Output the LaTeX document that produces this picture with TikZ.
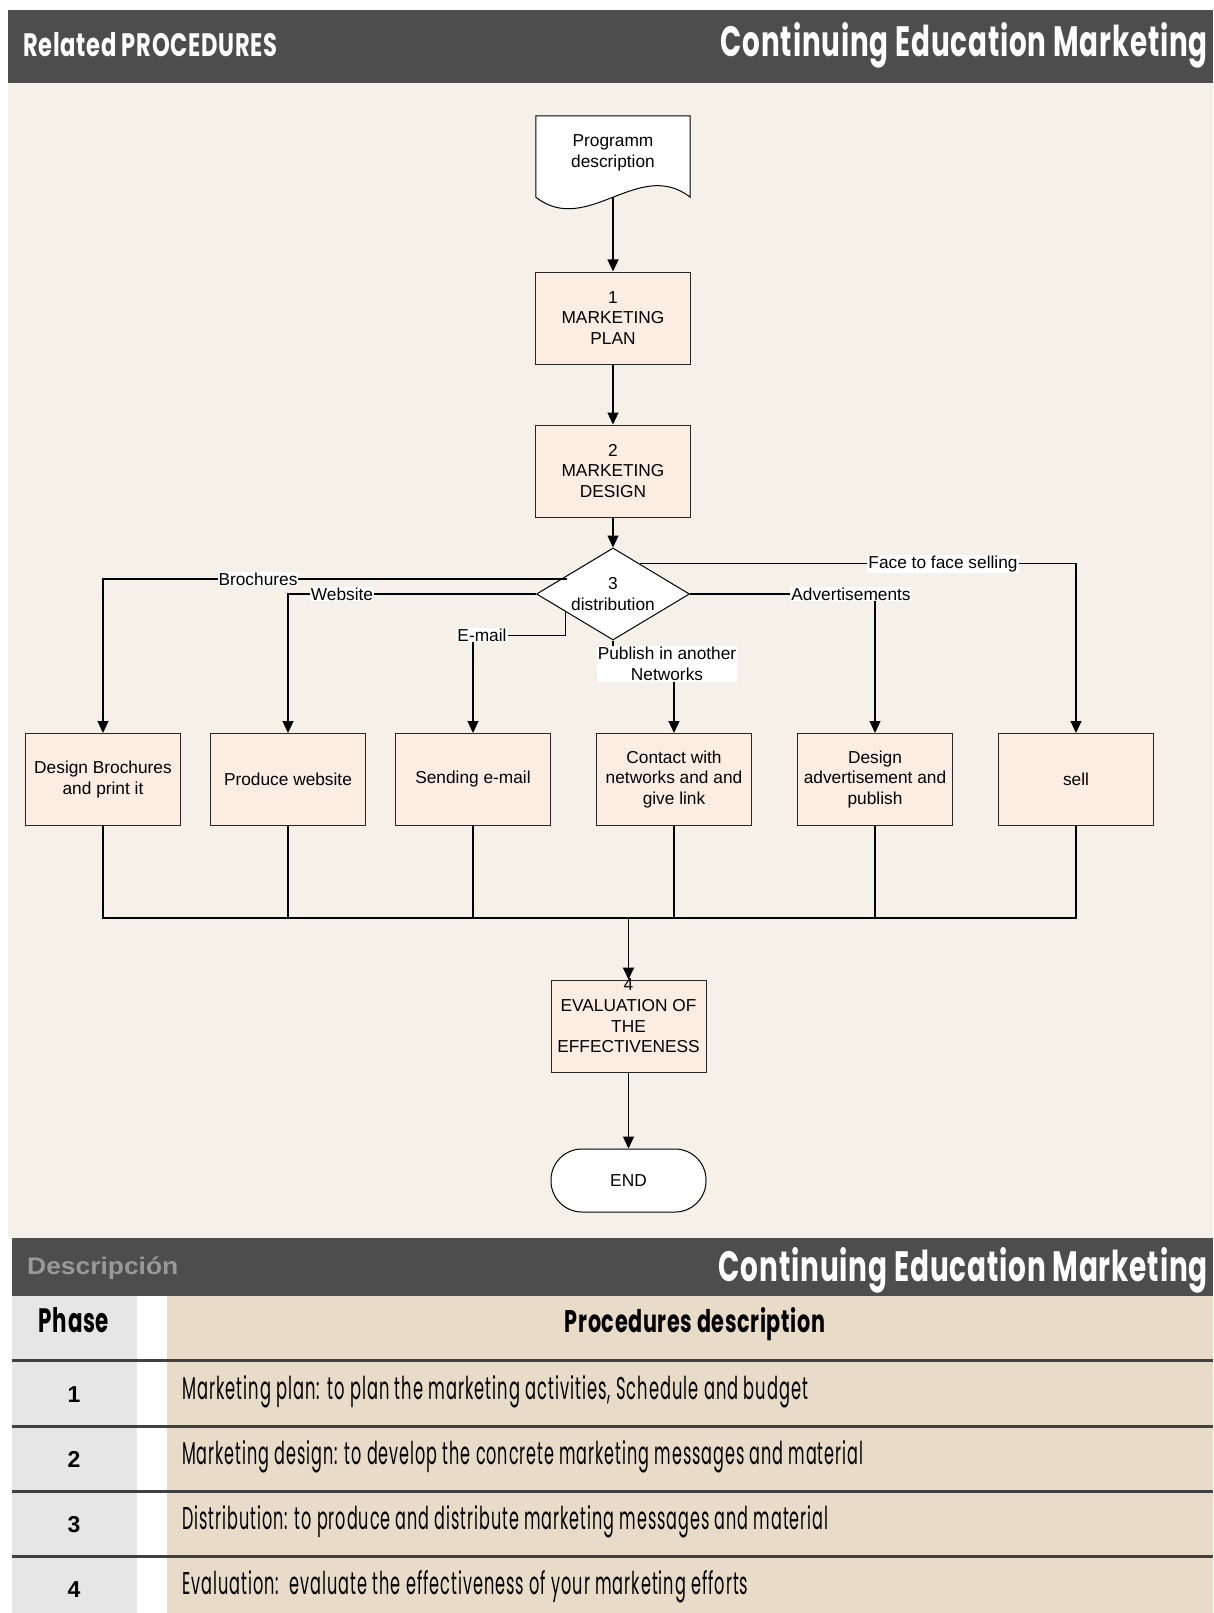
\documentclass[tikz,border=0pt]{standalone}
\usepackage{fontspec}
\usepackage{graphicx}
\setmainfont{Liberation Sans}
\newfontfamily\condfont{Poppins}[LetterSpace=6]
\newfontfamily\condbold{Poppins}[LetterSpace=3]
\usetikzlibrary{shapes.geometric,arrows.meta,calc}

\definecolor{barcol}{HTML}{4D4D4D}
\definecolor{paper}{HTML}{F5F0E8}
\definecolor{procfill}{HTML}{FCEDE3}
\definecolor{descfill}{HTML}{E8DCC8}
\definecolor{phasefill}{HTML}{E6E6E6}
\definecolor{rulecol}{HTML}{404040}
\definecolor{subtle}{HTML}{999999}

% squeeze a text line into a given width and height (in pt)
\newcommand{\fitbox}[3]{\resizebox{#1pt}{#2pt}{#3}}

\begin{document}
\begin{tikzpicture}[x=1pt,y=-1pt,
  flow/.style={font=\fontsize{17.3}{20.7}\selectfont, align=center},
  proc/.style={flow, draw=black!85, line width=1pt, fill=procfill,
    minimum width=155pt, minimum height=92pt, inner sep=0pt},
  edgelabel/.style={flow, fill=white, inner sep=1pt},
  conn/.style={line width=1.1pt, -{Triangle[length=12pt,width=11pt]}},
  plain/.style={line width=1.1pt},
  rowrule/.style={rulecol, line width=3pt},
  hdrtext/.style={inner sep=0pt, text=white},
]
\useasboundingbox (0,0) rectangle (1213,1613);
\fill[white] (0,0) rectangle (1213,1613);

% ---------- upper panel ----------
\fill[paper] (8,82) rectangle (1213,1238);
\fill[barcol] (8,10) rectangle (1213,83);
\node[hdrtext, anchor=base west] (hdrleft) at (23,57)
  {\fitbox{254}{24}{\condbold\bfseries Related PROCEDURES}};
\node[hdrtext, anchor=base east] (hdrright) at (1208,57)
  {\fitbox{487}{34}{\condbold\bfseries Continuing Education Marketing}};

% ---------- flowchart ----------
\node[minimum width=154pt, minimum height=81pt, inner sep=0pt] (doc) at (613,156.5) {};
\draw[fill=white, line width=1pt] (doc.north west) -- (doc.north east) -- (doc.south east)
  .. controls +(-51.3,-40) and +(51.3,40) .. (doc.south west) -- cycle;
\node[flow] (doctext) at ($(doc.center)+(0,-4)$) {Programm\\description};

\node[proc] (plan) at (613,318) {1\\MARKETING\\PLAN};
\node[proc] (design) at (613,471) {2\\MARKETING\\DESIGN};
\node[flow, diamond, draw, fill=white, line width=1pt, aspect=1.66, inner sep=0pt,
  minimum width=153pt, minimum height=92pt] (dist) at (613,594) {3\\distribution};

\node[proc] (b1) at (103,779.5) {Design Brochures\\and print it};
\node[proc] (b2) at (288,779.5) {Produce website};
\node[proc] (b3) at (473,779.5) {Sending e-mail};
\node[proc] (b4) at (674,779.5) {Contact with\\networks and and\\give link};
\node[proc] (b5) at (875,779.5) {Design\\advertisement and\\publish};
\node[proc] (b6) at (1076,779.5) {sell};

\node[proc] (eval) at (628.5,1026) {};
\node[flow, draw, fill=white, line width=1pt, rounded corners=31pt,
  minimum width=155pt, minimum height=63pt] (finish) at (628.5,1180.5) {END};

\draw[conn] (doc.south) -- (plan.north);
\draw[conn] (plan) -- (design);
\draw[conn] (design) -- (dist);
\draw[conn] ($(dist.164)+(6,0)$) -| (b1.north);
\draw[conn] (dist.west) -| (b2.north);
\draw[conn] (dist.201) -- ++(0,23) -| (b3.north);
\draw[conn] (dist.south) -- ++(0,25) -| (b4.north);
\draw[conn] (dist.east) -| (b5.north);
\draw[conn] (dist.48) -| (b6.north);

\node[edgelabel] (lbro) at (258,579) {Brochures};
\node[edgelabel] (lweb) at (342,594) {Website};
\node[edgelabel] (lmail) at (482,635) {E-mail};
\node[edgelabel] (lpub) at (667,664) {Publish in another\\Networks};
\node[edgelabel] (ladv) at (851,594) {Advertisements};
\node[edgelabel] (lface) at (943,564) {Face to face selling};

\coordinate (bus) at (628.5,918);
\foreach \b in {b1,b2,b3,b4,b5,b6} \draw[plain] (\b.south) |- (bus);
\draw[conn, line width=1.8pt] (bus) -- (eval.north);
\draw[conn] (eval) -- (finish);
% text of the evaluation box, set a little high so it runs over the arrow tip
\node[flow] (evaltext) at ($(eval.center)+(0,-10)$) {4\\EVALUATION OF\\THE\\EFFECTIVENESS};

% ---------- description panel ----------
\fill[barcol] (12,1238) rectangle (1213,1296);
\node[inner sep=0pt, anchor=base west, text=subtle] (descr) at (27,1274)
  {\scalebox{1.1}[1]{\fontsize{24}{28}\selectfont\bfseries Descripción}};
\node[hdrtext, anchor=base east] (hdrright2) at (1208,1281)
  {\fitbox{489}{34}{\condbold\bfseries Continuing Education Marketing}};

\fill[phasefill] (12,1296) rectangle (137,1613);
\fill[descfill] (167,1296) rectangle (1213,1613);
\foreach \y in {1360,1426,1491,1556} \draw[rowrule] (12,\y) -- (1213,\y);

\node[inner sep=0pt, anchor=base] (phasehd) at (74,1332)
  {\fitbox{70}{25}{\condbold\bfseries Phase}};
\node[inner sep=0pt, anchor=base] (deschd) at (695,1332)
  {\fitbox{260}{25}{\condbold\bfseries Procedures description}};

\foreach \n/\y in {1/1402,2/1467,3/1532,4/1597}
  \node[inner sep=0pt, anchor=base, font=\fontsize{23}{27}\selectfont\bfseries] (num\n) at (74,\y) {\n};

\node[inner sep=0pt, anchor=base west] (d1) at (182,1399)
  {\fitbox{626}{24}{\condfont Marketing plan: to plan the marketing activities, Schedule and budget}};
\node[inner sep=0pt, anchor=base west] (d2) at (182,1464)
  {\fitbox{681}{24}{\condfont Marketing design: to develop the concrete marketing messages and material}};
\node[inner sep=0pt, anchor=base west] (d3) at (182,1529)
  {\fitbox{646}{24}{\condfont Distribution: to produce and distribute marketing messages and material}};
\node[inner sep=0pt, anchor=base west] (d4) at (182,1594)
  {\fitbox{566}{24}{\condfont Evaluation:\ \ evaluate the effectiveness of your marketing efforts}};
\end{tikzpicture}
\end{document}
